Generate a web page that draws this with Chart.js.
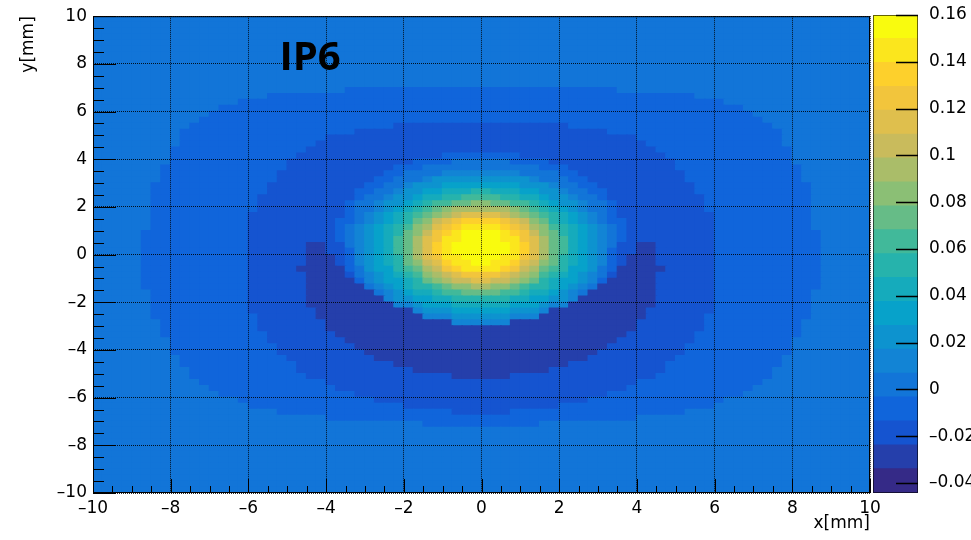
<!DOCTYPE html>
<html>
<head>
<meta charset="utf-8">
<script src="https://cdn.jsdelivr.net/npm/chart.js@4.4.1/dist/chart.umd.min.js"></script>
<style>
  html, body { margin: 0; padding: 0; background: #fff; }
  #wrap { position: relative; width: 971px; height: 540px; overflow: hidden; }
  #main { position: absolute; left: 0; top: 0; }
  #bar { position: absolute; left: 860px; top: 0; }
</style>
</head>
<body>
<div id="wrap">
  <canvas id="main" width="971" height="540"></canvas>
  <canvas id="bar" width="111" height="540"></canvas>
</div>
<script>
// axis ticks
const xTicks = [-10, -8, -6, -4, -2, 0, 2, 4, 6, 8, 10];
const yTicks = [-10, -8, -6, -4, -2, 0, 2, 4, 6, 8, 10];
const zTicks = [-0.04, -0.02, 0, 0.02, 0.04, 0.06, 0.08, 0.1, 0.12, 0.14, 0.16];

// z range of the palette, 20 contour bands
const zMin = -0.0443;
const zMax = 0.16;
const nBands = 20;

// histogram: 80 x 80 bins of 0.25 mm, rows from top (y = 10) to bottom (y = -10)
// each row is run-length coded as "band:count", band 0 = lowest z, 19 = highest
const binW = 0.25;
const cellRows = [
  "4:80", "4:80", "4:80", "4:80", "4:80", "4:80",
  "4:80", "4:80", "4:80", "4:80", "4:80", "4:80",
  "4:26 3:28 4:26",
  "4:18 3:44 4:18",
  "4:15 3:50 4:15",
  "4:13 3:54 4:13",
  "4:12 3:56 4:12",
  "4:11 3:58 4:11",
  "4:10 3:21 2:18 3:21 4:10",
  "4:9 3:18 2:26 3:18 4:9",
  "4:9 3:15 2:32 3:15 4:9",
  "4:9 3:14 2:34 3:14 4:9",
  "4:8 3:14 2:36 3:14 4:8",
  "4:8 3:13 2:15 3:8 2:15 3:13 4:8",
  "4:8 3:12 2:13 3:4 4:6 3:4 2:13 3:12 4:8",
  "4:7 3:13 2:11 3:3 4:12 3:3 2:11 3:13 4:7",
  "4:7 3:12 2:11 3:2 4:4 5:8 4:4 3:2 2:11 3:12 4:7",
  "4:7 3:12 2:10 3:2 4:3 5:1 6:10 5:1 4:3 3:2 2:10 3:12 4:7",
  "4:6 3:12 2:10 3:2 4:2 5:1 6:3 7:8 6:3 5:1 4:2 3:2 2:10 3:12 4:6",
  "4:6 3:12 2:9 3:2 4:2 5:1 6:2 7:2 8:3 9:2 8:3 7:2 6:2 5:1 4:2 3:2 2:9 3:12 4:6",
  "4:6 3:11 2:10 3:1 4:2 5:1 6:2 7:1 8:2 9:2 10:4 9:2 8:2 7:1 6:2 5:1 4:2 3:1 2:10 3:11 4:6",
  "4:6 3:11 2:9 3:1 4:2 5:1 6:2 7:1 8:1 9:1 10:2 11:2 12:2 11:2 10:2 9:1 8:1 7:1 6:2 5:1 4:2 3:1 2:9 3:11 4:6",
  "4:6 3:11 2:9 3:1 4:2 5:1 6:1 7:1 8:1 9:1 10:1 11:1 12:1 13:6 12:1 11:1 10:1 9:1 8:1 7:1 6:1 5:1 4:2 3:1 2:9 3:11 4:6",
  "4:6 3:10 2:10 3:1 4:1 5:1 6:1 7:1 8:1 9:1 10:1 11:1 12:1 13:1 14:1 15:4 14:1 13:1 12:1 11:1 10:1 9:1 8:1 7:1 6:1 5:1 4:1 3:1 2:10 3:10 4:6",
  "4:6 3:10 2:9 3:2 4:1 5:1 6:1 7:1 8:1 9:1 11:1 12:1 14:1 15:1 16:1 17:4 16:1 15:1 14:1 12:1 11:1 9:1 8:1 7:1 6:1 5:1 4:1 3:2 2:9 3:10 4:6",
  "4:6 3:10 2:9 3:1 4:1 5:1 6:1 7:1 8:1 9:1 10:1 12:1 13:1 15:1 16:1 17:1 18:4 17:1 16:1 15:1 13:1 12:1 10:1 9:1 8:1 7:1 6:1 5:1 4:1 3:1 2:9 3:10 4:6",
  "4:5 3:11 2:9 3:1 4:1 5:1 6:1 7:1 8:1 9:1 11:1 12:1 14:1 16:1 17:1 18:1 19:4 18:1 17:1 16:1 14:1 12:1 11:1 9:1 8:1 7:1 6:1 5:1 4:1 3:1 2:9 3:11 4:5",
  "4:5 3:11 2:9 3:1 4:1 5:1 6:1 7:1 8:1 10:1 11:1 13:1 15:1 16:1 18:2 19:4 18:2 16:1 15:1 13:1 11:1 10:1 8:1 7:1 6:1 5:1 4:1 3:1 2:9 3:11 4:5",
  "4:5 3:11 2:6 1:2 2:2 4:1 5:1 6:1 7:1 8:1 10:1 11:1 13:1 15:1 17:1 18:1 19:6 18:1 17:1 15:1 13:1 11:1 10:1 8:1 7:1 6:1 5:1 4:1 2:2 1:2 2:6 3:11 4:5",
  "4:5 3:11 2:6 1:2 2:2 3:1 5:1 6:1 7:1 8:1 10:1 11:1 13:1 15:1 17:1 18:1 19:6 18:1 17:1 15:1 13:1 11:1 10:1 8:1 7:1 6:1 5:1 3:1 2:2 1:2 2:6 3:11 4:5",
  "4:5 3:11 2:6 1:3 2:1 3:1 5:1 6:1 7:1 8:1 9:1 11:1 13:1 15:1 16:1 18:2 19:4 18:2 16:1 15:1 13:1 11:1 9:1 8:1 7:1 6:1 5:1 3:1 2:1 1:3 2:6 3:11 4:5",
  "4:5 3:11 2:6 1:3 2:1 3:1 5:1 6:1 7:1 8:1 9:1 11:1 12:1 14:1 15:1 17:1 18:2 19:2 18:2 17:1 15:1 14:1 12:1 11:1 9:1 8:1 7:1 6:1 5:1 3:1 2:1 1:3 2:6 3:11 4:5",
  "4:5 3:11 2:5 1:5 3:1 4:1 6:1 7:2 9:1 10:1 11:1 13:1 14:1 16:1 17:1 18:4 17:1 16:1 14:1 13:1 11:1 10:1 9:1 7:2 6:1 4:1 3:1 1:5 2:5 3:11 4:5",
  "4:5 3:11 2:6 1:4 2:1 4:1 5:1 6:1 7:1 8:1 9:1 10:1 12:1 13:1 14:1 15:1 16:4 15:1 14:1 13:1 12:1 10:1 9:1 8:1 7:1 6:1 5:1 4:1 2:1 1:4 2:6 3:11 4:5",
  "4:5 3:11 2:6 1:5 3:1 5:1 6:1 7:2 8:1 9:1 11:1 12:1 13:1 14:2 15:2 14:2 13:1 12:1 11:1 9:1 8:1 7:2 6:1 5:1 3:1 1:5 2:6 3:11 4:5",
  "4:5 3:11 2:6 1:6 4:1 5:1 6:1 7:1 8:1 9:2 10:1 11:1 12:2 13:2 12:2 11:1 10:1 9:2 8:1 7:1 6:1 5:1 4:1 1:6 2:6 3:11 4:5",
  "4:6 3:10 2:6 1:7 4:1 5:1 6:1 7:1 8:2 9:1 10:2 11:4 10:2 9:1 8:2 7:1 6:1 5:1 4:1 1:7 2:6 3:10 4:6",
  "4:6 3:10 2:6 1:8 5:1 6:2 7:2 8:2 9:6 8:2 7:2 6:2 5:1 1:8 2:6 3:10 4:6",
  "4:6 3:10 2:6 1:9 5:2 6:1 7:3 8:6 7:3 6:1 5:2 1:9 2:6 3:10 4:6",
  "4:6 3:10 2:7 1:10 5:1 6:3 7:6 6:3 5:1 1:10 2:7 3:10 4:6",
  "4:6 3:11 2:6 1:11 5:3 6:6 5:3 1:11 2:6 3:11 4:6",
  "4:7 3:10 2:7 1:13 5:6 1:13 2:7 3:10 4:7",
  "4:7 3:10 2:7 1:32 2:7 3:10 4:7",
  "4:7 3:11 2:7 1:30 2:7 3:11 4:7",
  "4:8 3:10 2:8 1:28 2:8 3:10 4:8",
  "4:8 3:11 2:8 1:26 2:8 3:11 4:8",
  "4:8 3:11 2:9 1:24 2:9 3:11 4:8",
  "4:9 3:11 2:9 1:22 2:9 3:11 4:9",
  "4:9 3:12 2:10 1:18 2:10 3:12 4:9",
  "4:10 3:11 2:12 1:14 2:12 3:11 4:10",
  "4:10 3:12 2:15 1:6 2:15 3:12 4:10",
  "4:11 3:13 2:32 3:13 4:11",
  "4:12 3:13 2:30 3:13 4:12",
  "4:13 3:14 2:26 3:14 4:13",
  "4:15 3:14 2:22 3:14 4:15",
  "4:16 3:16 2:16 3:16 4:16",
  "4:19 3:18 2:6 3:18 4:19",
  "4:24 3:32 4:24",
  "4:34 3:12 4:34",
  "4:80", "4:80", "4:80", "4:80", "4:80", "4:80",
  "4:80", "4:80", "4:80", "4:80", "4:80"
];

const title = 'IP6';

// ROOT kBird palette
const birdStops = [0, 0.125, 0.25, 0.375, 0.5, 0.625, 0.75, 0.875, 1];
const birdR = [0.2082, 0.0592, 0.0780, 0.0232, 0.1802, 0.5301, 0.8186, 0.9956, 0.9764];
const birdG = [0.1664, 0.3599, 0.5041, 0.6419, 0.7178, 0.7492, 0.7328, 0.7862, 0.9832];
const birdB = [0.5293, 0.8684, 0.8385, 0.7914, 0.6425, 0.4662, 0.3499, 0.1968, 0.0539];

function birdColor(t) {
  let k = 0;
  while (k < birdStops.length - 2 && t > birdStops[k + 1]) k++;
  const f = (t - birdStops[k]) / (birdStops[k + 1] - birdStops[k]);
  const c = arr => Math.round(255 * (arr[k] + (arr[k + 1] - arr[k]) * f));
  return 'rgb(' + c(birdR) + ',' + c(birdG) + ',' + c(birdB) + ')';
}

const bandColors = [];
for (let i = 0; i < nBands; i++) bandColors.push(birdColor(i / (nBands - 1)));
const bandStep = (zMax - zMin) / nBands;

function decodeRow(s) {
  const out = [];
  s.split(' ').forEach(tok => {
    const p = tok.split(':');
    for (let k = 0; k < +p[1]; k++) out.push(+p[0]);
  });
  return out;
}

// build the cells of the histogram
const cells = [];
const cellColors = [];
cellRows.forEach((row, i) => {
  const yc = 10 - (i + 0.5) * binW;
  decodeRow(row).forEach((band, j) => {
    const xc = -10 + (j + 0.5) * binW;
    cells.push({ x: xc, y: [yc - binW / 2, yc + binW / 2], z: zMin + (band + 0.5) * bandStep });
    cellColors.push(bandColors[band]);
  });
});

const labelFont = { family: '"DejaVu Sans", sans-serif', size: 17 };
const fmt = v => (v < 0 ? '\u2013' : '') + Math.abs(v);

// ROOT style frame + inner tick marks
const framePlugin = {
  id: 'frame',
  afterDraw(chart) {
    const { ctx, chartArea: a, scales } = chart;
    ctx.save();
    ctx.strokeStyle = '#000';
    ctx.lineWidth = 1;
    ctx.beginPath();
    for (let v = -10; v <= 10.001; v += 0.5) {
      const major = Math.abs(v / 2 - Math.round(v / 2)) < 1e-6;
      const px = Math.round(scales.x.getPixelForValue(v)) + 0.5;
      ctx.moveTo(px, a.bottom);
      ctx.lineTo(px, a.bottom - (major ? 14 : 7));
      const py = Math.round(scales.y.getPixelForValue(v)) + 0.5;
      ctx.moveTo(a.left, py);
      ctx.lineTo(a.left + (major ? 23 : 11), py);
    }
    ctx.stroke();
    ctx.strokeRect(a.left + 0.5, a.top + 0.5, a.right - a.left - 1, a.bottom - a.top - 1);
    ctx.fillStyle = '#000';
    ctx.font = 'bold 40px "Open Sans", sans-serif';
    ctx.textBaseline = 'alphabetic';
    ctx.fillText(title, scales.x.getPixelForValue(-5.2), scales.y.getPixelForValue(7.75));
    ctx.restore();
  }
};

new Chart(document.getElementById('main'), {
  type: 'bar',
  data: {
    datasets: [{
      data: cells,
      backgroundColor: cellColors,
      borderWidth: 0,
      inflateAmount: 0.8,
      barPercentage: 1,
      categoryPercentage: 1
    }]
  },
  options: {
    responsive: false,
    animation: false,
    events: [],
    devicePixelRatio: 1,
    layout: { padding: { top: 15, right: 101, left: 0, bottom: 0 } },
    plugins: { legend: { display: false }, tooltip: { enabled: false } },
    scales: {
      x: {
        type: 'linear', min: -10, max: 10, offset: false,
        afterBuildTicks: s => { s.ticks = xTicks.map(v => ({ value: v })); },
        afterFit: s => { s.height = 47; },
        grid: { color: 'rgba(0,0,0,0.85)', lineWidth: 1, drawTicks: false, z: 1, offset: false },
        border: { display: false, dash: [1, 1] },
        ticks: { font: labelFont, color: '#000', padding: 5, maxRotation: 0, autoSkip: false, callback: fmt },
        title: { display: true, text: 'x[mm]', align: 'end', font: labelFont, color: '#000', padding: { top: 0, bottom: 6 } }
      },
      y: {
        type: 'linear', min: -10, max: 10,
        afterBuildTicks: s => { s.ticks = yTicks.map(v => ({ value: v })); },
        afterFit: s => { s.width = 93; },
        grid: { color: 'rgba(0,0,0,0.85)', lineWidth: 1, drawTicks: false, z: 1 },
        border: { display: false, dash: [1, 1] },
        ticks: { font: labelFont, color: '#000', padding: 6, autoSkip: false, callback: fmt },
        title: { display: true, text: 'y[mm]', align: 'end', font: labelFont, color: '#000', padding: { top: 18, bottom: 0 } }
      }
    }
  },
  plugins: [framePlugin]
});

// colour bar
const barPlugin = {
  id: 'barFrame',
  afterDraw(chart) {
    const { ctx, chartArea: a, scales } = chart;
    ctx.save();
    ctx.strokeStyle = '#000';
    ctx.lineWidth = 1.5;
    ctx.beginPath();
    zTicks.forEach(v => {
      const py = Math.round(scales.y.getPixelForValue(v)) + 0.5;
      ctx.moveTo(a.right, py);
      ctx.lineTo(a.right - 22, py);
    });
    ctx.stroke();
    ctx.lineWidth = 1;
    ctx.strokeStyle = 'rgba(0,0,0,0.6)';
    ctx.strokeRect(a.left + 0.5, a.top + 0.5, a.right - a.left - 1, a.bottom - a.top - 1);
    ctx.restore();
  }
};

const barSets = bandColors.map((c, i) => ({
  data: [[zMin + i * bandStep, zMin + (i + 1) * bandStep]],
  backgroundColor: c,
  borderWidth: 0,
  inflateAmount: 0.8,
  grouped: false,
  barPercentage: 1,
  categoryPercentage: 1
}));

new Chart(document.getElementById('bar'), {
  type: 'bar',
  data: { labels: [''], datasets: barSets },
  options: {
    responsive: false,
    animation: false,
    events: [],
    devicePixelRatio: 1,
    layout: { padding: { top: 15, left: 13, bottom: 47, right: 0 } },
    plugins: { legend: { display: false }, tooltip: { enabled: false } },
    scales: {
      x: { display: false },
      y: {
        position: 'right', min: zMin, max: zMax,
        afterBuildTicks: s => { s.ticks = zTicks.map(v => ({ value: v })); },
        afterFit: s => { s.width = 53; },
        grid: { display: false },
        border: { display: false },
        ticks: { font: labelFont, color: '#000', padding: 3, autoSkip: false, callback: fmt }
      }
    }
  },
  plugins: [barPlugin]
});
</script>
</body>
</html>
